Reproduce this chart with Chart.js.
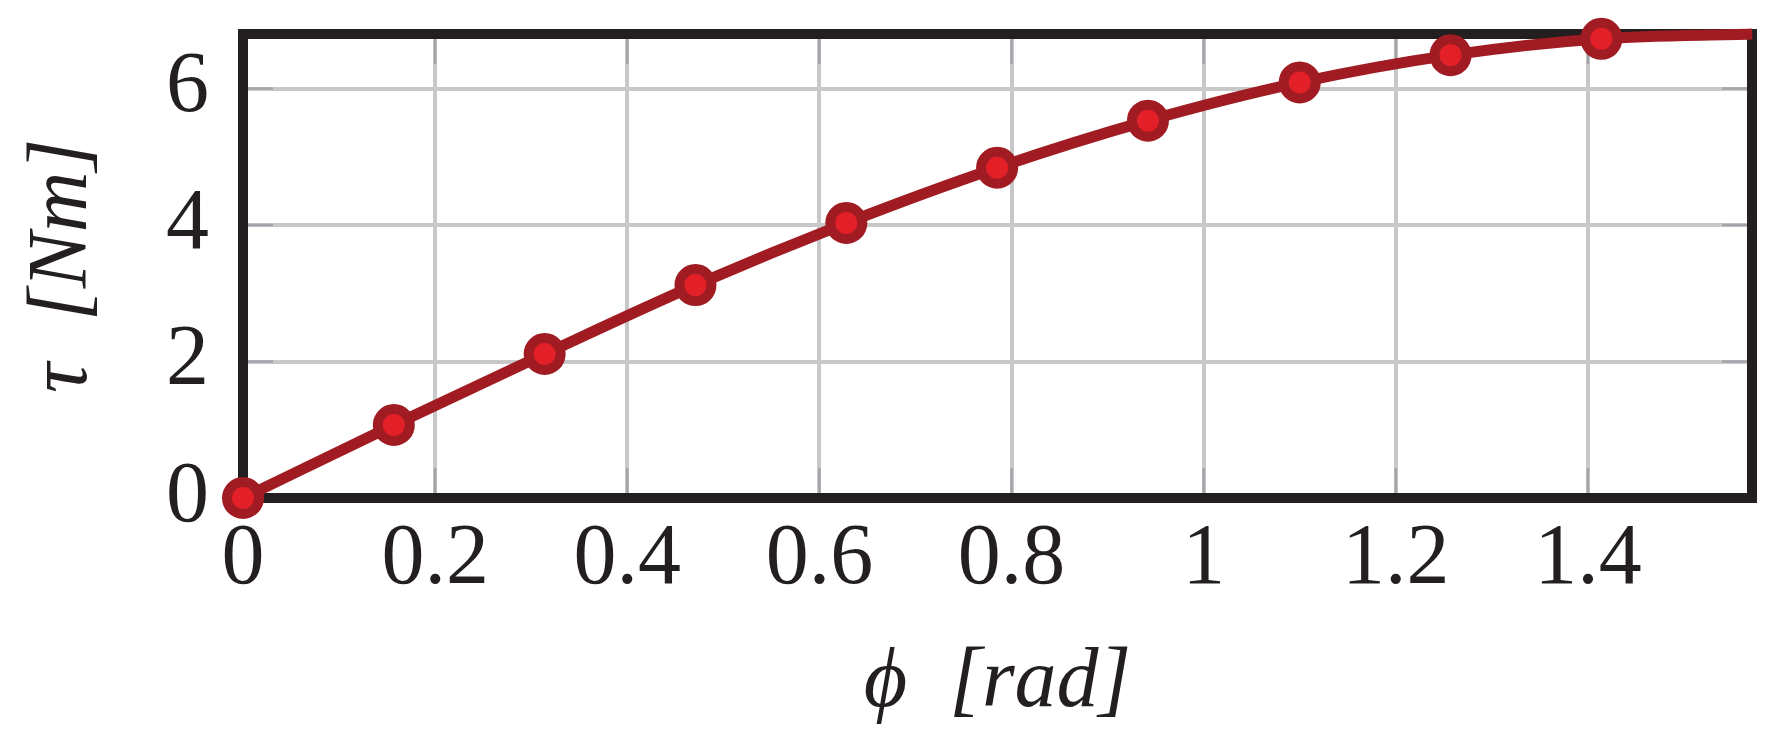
<!DOCTYPE html>
<html>
<head>
<meta charset="utf-8">
<script src="https://cdn.jsdelivr.net/npm/chart.js@4"></script>
<style>
  html, body { margin: 0; padding: 0; background: #fff; }
  #wrap { width: 1786px; height: 754px; }
</style>
</head>
<body>
<div id="wrap"><canvas id="tauChart"></canvas></div>
<script>
// data
const phi = [0, 0.157, 0.314, 0.471, 0.628, 0.785, 0.942, 1.1, 1.257, 1.414, 1.571];
const tau = [0, 1.07, 2.11, 3.12, 4.03, 4.84, 5.53, 6.09, 6.49, 6.73, 6.8];
const markerShown = [1, 1, 1, 1, 1, 1, 1, 1, 1, 1, 0];
const xRange = [0, 1.5708];
const yRange = [0, 6.8];
const xTickStep = 0.2;
const yTickStep = 2;

const FONT = "'Liberation Serif', 'DejaVu Serif', serif";

// frame + inner tick marks like pgfplots
const framePlugin = {
    id: "frame",
    beforeDatasetsDraw(chart) {
        const { ctx, chartArea: a, scales } = chart;
        const len = 30;
        ctx.save();
        ctx.strokeStyle = "#a3a3aa";
        ctx.lineWidth = 2.5;
        scales.x.ticks.forEach(t => {
            const px = scales.x.getPixelForValue(t.value);
            ctx.beginPath();
            ctx.moveTo(px, a.bottom); ctx.lineTo(px, a.bottom - len);
            ctx.moveTo(px, a.top); ctx.lineTo(px, a.top + len);
            ctx.stroke();
        });
        scales.y.ticks.forEach(t => {
            const py = scales.y.getPixelForValue(t.value);
            ctx.beginPath();
            ctx.moveTo(a.left, py); ctx.lineTo(a.left + len, py);
            ctx.moveTo(a.right, py); ctx.lineTo(a.right - len, py);
            ctx.stroke();
        });
        ctx.strokeStyle = "#231f20";
        ctx.lineWidth = 10;
        ctx.strokeRect(a.left, a.top, a.right - a.left, a.bottom - a.top);
        ctx.restore();
    }
};

const ctx = document.getElementById("tauChart").getContext("2d");
new Chart(ctx, {
    type: "line",
    data: {
        datasets: [{
            data: phi.map((p, i) => ({ x: p, y: tau[i] })),
            borderColor: "#a01c22",
            borderWidth: 11,
            cubicInterpolationMode: "monotone",
            pointRadius: markerShown.map(m => m ? 16 : 0),
            pointBorderWidth: 10,
            pointBackgroundColor: "#e32028",
            pointBorderColor: "#a01c22",
            clip: false
        }]
    },
    options: {
        responsive: true,
        maintainAspectRatio: false,
        animation: false,
        events: [],
        layout: { autoPadding: false, padding: { top: 34, right: 34, left: 0, bottom: 0 } },
        plugins: { legend: { display: false }, tooltip: { enabled: false } },
        scales: {
            x: {
                type: "linear",
                min: xRange[0],
                max: xRange[1],
                afterFit: s => { s.height = 256; s.paddingLeft = 0; s.paddingRight = 0; },
                grid: { color: "#c8c8c8", lineWidth: 4, drawTicks: false },
                border: { display: false },
                ticks: {
                    stepSize: xTickStep,
                    includeBounds: false,
                    padding: 11,
                    color: "#231f20",
                    font: { family: FONT, size: 86 },
                    callback: v => String(Number(v.toFixed(1)))
                },
                title: {
                    display: true,
                    text: "ϕ  [rad]",
                    color: "#231f20",
                    font: { family: FONT, size: 84, style: "italic" },
                    padding: { top: 0, bottom: 20 }
                }
            },
            y: {
                type: "linear",
                min: yRange[0],
                max: yRange[1],
                afterFit: s => { s.width = 243; s.paddingTop = 0; s.paddingBottom = 0; },
                grid: { color: "#c8c8c8", lineWidth: 4, drawTicks: false },
                border: { display: false },
                ticks: {
                    stepSize: yTickStep,
                    includeBounds: false,
                    padding: 34,
                    color: "#231f20",
                    font: { family: FONT, size: 86 }
                },
                title: {
                    display: true,
                    text: "τ  [Nm]",
                    color: "#231f20",
                    font: { family: FONT, size: 84, style: "italic" },
                    padding: { top: 14, bottom: 0 }
                }
            }
        }
    },
    plugins: [framePlugin]
});
</script>
</body>
</html>
